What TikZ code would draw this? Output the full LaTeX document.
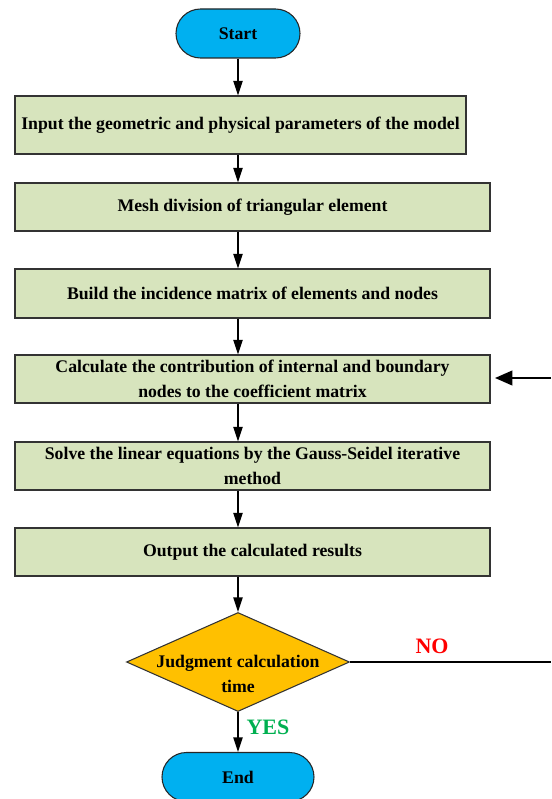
\documentclass[tikz,border=0pt]{standalone}
\usepackage{fontspec}
\setmainfont{Liberation Serif}
\usetikzlibrary{shapes.geometric,shapes.misc,arrows.meta}
\definecolor{boxgreen}{HTML}{D7E4BD}
\definecolor{termblue}{HTML}{00B0F0}
\definecolor{decorange}{HTML}{FFC000}
\definecolor{nored}{HTML}{FF0000}
\definecolor{yesgreen}{HTML}{00B050}
\begin{document}
\begin{tikzpicture}[x=0.75pt,y=-0.75pt,
  txt/.style={font=\bfseries\fontsize{13.3}{18.8}\selectfont, align=center},
  lbl/.style={font=\bfseries\fontsize{16.5}{20}\selectfont},
  proc/.style={txt, draw=black!80, line width=0.8pt, fill=boxgreen, inner sep=0pt, minimum height=36pt, minimum width=356.25pt},
  term/.style={txt, rounded rectangle, draw=black!85, line width=0.8pt, fill=termblue, inner sep=0pt, minimum height=36.75pt},
  arr/.style={line width=1.1pt, -{Triangle[length=11pt,width=7pt]}},
  bigarr/.style={line width=1.5pt, -{Triangle[length=13pt,width=11pt]}},
  plain/.style={line width=1.5pt}]
\useasboundingbox (0,0) rectangle (551,799);
\node[term, minimum width=93pt] (start) at (238,33.5) {Start};
\node[proc, minimum width=338.25pt, minimum height=43.5pt] (b1) at (240.5,125) {Input the geometric and physical parameters of the model};
\node[proc] (b2) at (252.5,207) {Mesh division of triangular element};
\node[proc, minimum height=36.75pt] (b3) at (252.5,293.5) {Build the incidence matrix of elements and nodes};
\node[proc] (b4) at (252.5,379) {Calculate the contribution of internal and boundary\\nodes to the coefficient matrix};
\node[proc] (b5) at (252.5,466) {Solve the linear equations by the Gauss-Seidel iterative\\method};
\node[proc] (b6) at (252.5,552) {Output the calculated results};
\node[diamond, draw=black!80, line width=0.8pt, fill=decorange, inner sep=0pt, minimum width=167.25pt, minimum height=74.25pt] (dec) at (238,662) {};
\node[txt] (dectxt) at (238,674) {Judgment calculation\\time};
\node[term, minimum width=114pt] (end) at (238,777) {End};
\node[lbl, text=nored] (no) at (432,646) {NO};
\node[lbl, text=yesgreen] (yes) at (268,727) {YES};
\coordinate (noend) at (551,662);
\coordinate (inend) at (551,378);
\coordinate (intip) at (495,378);
\draw[arr] (start.south) -- (start.south |- b1.north);
\draw[arr] (b1.south -| start) -- (b2.north -| start);
\draw[arr] (b2.south -| start) -- (b3.north -| start);
\draw[arr] (b3.south -| start) -- (b4.north -| start);
\draw[arr] (b4.south -| start) -- (b5.north -| start);
\draw[arr] (b5.south -| start) -- (b6.north -| start);
\draw[arr] (b6.south -| start) -- (dec.north);
\draw[arr] (dec.south) -- (end.north);
\draw[plain] (dec.east) -- (noend);
\draw[bigarr] (inend) -- (intip);
\end{tikzpicture}
\end{document}
